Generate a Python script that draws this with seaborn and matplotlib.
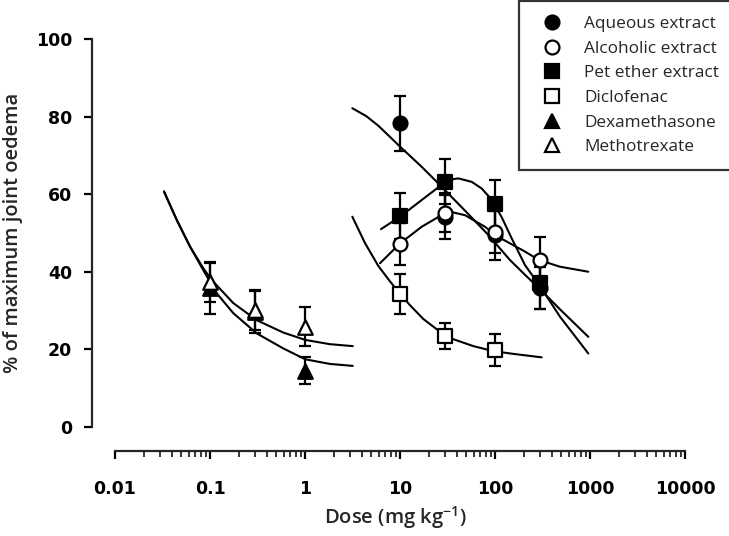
import numpy as np
import pandas as pd
import matplotlib
matplotlib.use("Agg")
import matplotlib.pyplot as plt
from matplotlib.lines import Line2D
from matplotlib.ticker import FixedLocator, NullFormatter
import seaborn as sns

sns.set_style("ticks")
plt.rcParams['font.family'] = ['Open Sans', 'DejaVu Sans']
plt.rcParams['mathtext.fontset'] = 'custom'
plt.rcParams['mathtext.rm'] = 'Open Sans:semibold'
plt.rcParams['mathtext.it'] = 'Open Sans:italic'
plt.rcParams['mathtext.bf'] = 'Open Sans:bold'

# ---------------- data ----------------
doses_extract = [10, 30, 100, 300]
doses_diclo = [10, 30, 100]
doses_std = [0.1, 0.3, 1]

aqueous_mean = [78.3, 54.2, 49.5, 35.8]
aqueous_sem = [7.1, 5.7, 6.5, 5.4]
alcoholic_mean = [47.1, 55.2, 50.3, 43.0]
alcoholic_sem = [5.4, 5.0, 5.5, 6.0]
pet_mean = [54.4, 63.2, 57.5, 37.0]
pet_sem = [6.0, 5.8, 6.2, 6.7]
diclo_mean = [34.3, 23.4, 19.8]
diclo_sem = [5.2, 3.4, 4.2]
dexa_mean = [35.7, 29.5, 14.4]
dexa_sem = [6.6, 5.4, 3.5]
metho_mean = [37.3, 30.1, 25.8]
metho_sem = [5.1, 5.2, 5.0]

# fitted curves
aq_fit_x = [3.15, 4.4, 5.91, 7.7, 10, 16.9, 27.3, 50, 85, 144, 207, 298, 483, 960]
aq_fit_y = [82.2, 80.2, 77.7, 75.0, 72.3, 67.1, 62.0, 55.4, 49.5, 43.0, 39.2, 35.5, 30.3, 23.2]
pet_fit_x = [6.31, 10, 16.9, 27.3, 32.2, 41.1, 56.9, 72.4, 92.2, 118, 150, 207, 292, 483, 960]
pet_fit_y = [51.0, 54.2, 58.5, 62.4, 63.7, 64.1, 63.2, 61.5, 58.6, 54.0, 48.6, 41.7, 36.6, 28.4, 18.9]
alc_fit_x = [6.16, 10, 16.9, 27.3, 33.6, 48.3, 78.5, 108, 207, 292, 483, 960]
alc_fit_y = [42.2, 47.3, 51.6, 54.6, 55.5, 54.6, 51.6, 49.0, 45.2, 43.0, 41.3, 40.0]
dic_fit_x = [3.15, 4.28, 5.91, 7.85, 10, 12.7, 17.6, 26.4, 36.3, 59.2, 96.2, 156, 310]
dic_fit_y = [54.2, 47.4, 41.5, 37.5, 34.3, 31.4, 27.8, 24.5, 22.6, 20.8, 19.5, 18.8, 17.9]
met_fit_x = [0.0328, 0.0446, 0.0616, 0.085, 0.104, 0.176, 0.310, 0.591, 1.007, 1.83, 3.18]
met_fit_y = [60.7, 53.4, 46.5, 40.9, 37.9, 31.9, 27.5, 24.3, 22.4, 21.3, 20.8]
dex_fit_x = [0.0328, 0.0446, 0.0616, 0.085, 0.118, 0.176, 0.310, 0.591, 1.007, 1.83, 3.18]
dex_fit_y = [60.7, 53.4, 46.5, 40.4, 34.4, 29.3, 24.1, 20.2, 17.4, 16.2, 15.7]

x_ticks = [0.01, 0.1, 1, 10, 100, 1000, 10000]
x_tick_labels = ["0.01", "0.1", "1", "10", "100", "1000", "10000"]
y_ticks = [0, 20, 40, 60, 80, 100]

labels = ["Aqueous extract", "Alcoholic extract", "Pet ether extract",
          "Diclofenac", "Dexamethasone", "Methotrexate"]

# ---------------- figure ----------------
W, H = 729, 536
fig = plt.figure(figsize=(W / 100, H / 100), dpi=100)
left_px, right_px, top_px, bot_px = 91.5, 700, 39.3, 426.7
ax = fig.add_axes([left_px / W, 1 - bot_px / H, (right_px - left_px) / W, (bot_px - top_px) / H])
ax.set_xscale('log')
ax.set_xlim(10 ** ((left_px - 305) / 95), 10 ** ((right_px - 305) / 95))
ax.set_ylim(0, 100)

curve_kw = dict(color='black', linewidth=1.5, estimator=None, sort=False, ax=ax, legend=False, zorder=2)
for fx_, fy_ in [(aq_fit_x, aq_fit_y), (pet_fit_x, pet_fit_y), (alc_fit_x, alc_fit_y),
                 (dic_fit_x, dic_fit_y), (met_fit_x, met_fit_y), (dex_fit_x, dex_fit_y)]:
    sns.lineplot(x=fx_, y=fy_, **curve_kw)

series = [
    (doses_extract, aqueous_mean, aqueous_sem, 'o', 'black', 3),
    (doses_extract, pet_mean, pet_sem, 's', 'black', 4),
    (doses_extract, alcoholic_mean, alcoholic_sem, 'o', 'white', 5),
    (doses_std, dexa_mean, dexa_sem, '^', 'black', 3),
    (doses_std, metho_mean, metho_sem, '^', 'white', 5),
    (doses_diclo, diclo_mean, diclo_sem, 's', 'white', 5),
]
for xs, ms, es, mk, fc, z in series:
    ax.errorbar(xs, ms, yerr=es, fmt='none', ecolor='black', elinewidth=1.6,
                capsize=4.2, capthick=1.6, zorder=z)
    sns.scatterplot(x=xs, y=ms, marker=mk, s=100 if mk != '^' else 110,
                    color=fc, edgecolor='black', linewidth=1.6, ax=ax, zorder=z + 0.5,
                    legend=False)

# axes styling
for s in ['top', 'right']:
    ax.spines[s].set_visible(False)
ax.spines['left'].set_linewidth(1.6)
ax.spines['bottom'].set_linewidth(1.6)
ax.spines['bottom'].set_position(('outward', 17.5))
ax.spines['bottom'].set_bounds(0.01, 10000)
ax.xaxis.set_major_locator(FixedLocator(x_ticks))
ax.set_xticklabels(x_tick_labels)
minor = [m * d for d in [0.01, 0.1, 1, 10, 100, 1000] for m in range(2, 10)]
ax.xaxis.set_minor_locator(FixedLocator(minor))
ax.xaxis.set_minor_formatter(NullFormatter())
ax.set_yticks(y_ticks)
ax.tick_params(axis='both', which='major', direction='out', length=6, width=1.6,
               labelsize=12.5, color='black', labelcolor='black')
ax.tick_params(axis='x', which='minor', direction='out', length=4.5, width=1.3)
ax.tick_params(axis='x', which='major', pad=15)
ax.tick_params(axis='y', which='major', pad=8)
for t in ax.get_xticklabels() + ax.get_yticklabels():
    t.set_fontfamily('DejaVu Sans')
    t.set_fontweight('bold')

ax.set_ylabel("% of maximum joint oedema", fontsize=14.5, fontweight='semibold', labelpad=9)
ax.set_xlabel(r"Dose (mg kg$^{\mathregular{-1}}$)", fontsize=14.5, fontweight='semibold', labelpad=4)

# legend
def mh(marker, fc, ms):
    return Line2D([], [], marker=marker, linestyle='none', markersize=ms,
                  markerfacecolor=fc, markeredgecolor='black', markeredgewidth=1.6)

handles = [mh('o', 'black', 10), mh('o', 'white', 10), mh('s', 'black', 9.5),
           mh('s', 'white', 9.5), mh('^', 'black', 10.5), mh('^', 'white', 10.5)]
leg = ax.legend(handles, labels, loc='upper left', bbox_to_anchor=(519 / W, 1 - 1 / H),
                bbox_transform=fig.transFigure, frameon=True, fancybox=False,
                edgecolor='black', fontsize=12.4, borderpad=0.86, labelspacing=0.5,
                handlelength=2.12, handletextpad=0.8, borderaxespad=0, numpoints=1)
leg.get_frame().set_linewidth(1.6)

fig.savefig("out.png", dpi=100)
